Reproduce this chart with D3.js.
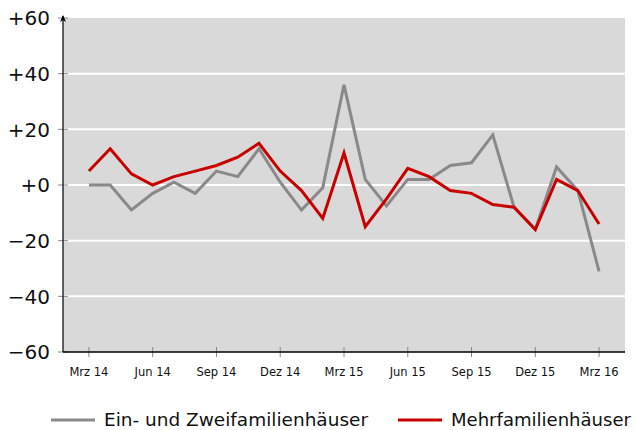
<!DOCTYPE html>
<html>
<head>
<meta charset="utf-8">
<script src="https://cdn.jsdelivr.net/npm/d3@7"></script>
<style>
  body { margin: 0; background: #fff; }
  text { font-family: "DejaVu Sans", sans-serif; fill: #111; }
</style>
</head>
<body>
<div id="chart"></div>
<script>
// months from Mrz 14 to Mrz 16
const months = ["Mrz 14","Apr 14","Mai 14","Jun 14","Jul 14","Aug 14","Sep 14","Okt 14","Nov 14","Dez 14","Jan 15","Feb 15",
  "Mrz 15","Apr 15","Mai 15","Jun 15","Jul 15","Aug 15","Sep 15","Okt 15","Nov 15","Dez 15","Jan 16","Feb 16","Mrz 16"];
const einZwei = [0, 0, -9, -3, 1, -3, 5, 3, 13, 1, -9, -1, 36, 2, -7.5, 2, 2, 7, 8, 18, -8, -16, 6.5, -2, -31];
const mehr = [5, 13, 4, 0, 3, 5, 7, 10, 15, 5, -2, -12, 11.5, -15, -5, 6, 3, -2, -3, -7, -8, -16, 2, -2, -14];
const yTicks = [-60, -40, -20, 0, 20, 40, 60];
const xTickIdx = [0, 3, 6, 9, 12, 15, 18, 21, 24];
const seriesNames = ["Ein- und Zweifamilienhäuser", "Mehrfamilienhäuser"];
const colors = ["#898989", "#c80000"];

const W = 636, H = 430;
const margin = {top: 18, right: 11, bottom: 78, left: 63};
const width = W - margin.left - margin.right;
const height = H - margin.top - margin.bottom;

const svg = d3.select("#chart").append("svg")
    .attr("width", W).attr("height", H);
const g = svg.append("g").attr("transform", `translate(${margin.left},${margin.top})`);

const x = d3.scaleLinear().domain([-1.22, 25.22]).range([0, width]);
const y = d3.scaleLinear().domain([-60, 60]).range([height, 0]);

// background
g.append("rect").attr("width", width).attr("height", height).attr("fill", "#d9d9d9");

// gridlines
g.selectAll(".grid").data(yTicks.filter(d => d > -60 && d < 60)).enter()
  .append("line")
  .attr("x1", 0).attr("x2", width)
  .attr("y1", d => y(d)).attr("y2", d => y(d))
  .attr("stroke", "#fff").attr("stroke-width", 2);

// y ticks + labels
const fmt = d => (d < 0 ? "\u2212" : "+") + Math.abs(d);
g.selectAll(".ytick").data(yTicks).enter().append("line")
  .attr("x1", -5).attr("x2", 5)
  .attr("y1", d => y(d)).attr("y2", d => y(d))
  .attr("stroke", "#888").attr("stroke-width", 1);
g.selectAll(".ylab").data(yTicks).enter().append("text")
  .attr("x", -13).attr("y", d => y(d))
  .attr("dy", "0.36em").attr("text-anchor", "end")
  .style("font-size", "20px")
  .text(fmt);

// x ticks + labels
g.selectAll(".xtick").data(xTickIdx).enter().append("line")
  .attr("x1", d => x(d)).attr("x2", d => x(d))
  .attr("y1", height - 5).attr("y2", height + 5)
  .attr("stroke", "#888").attr("stroke-width", 1);
g.selectAll(".xlab").data(xTickIdx).enter().append("text")
  .attr("x", d => x(d)).attr("y", height + 24)
  .attr("text-anchor", "middle")
  .style("font-size", "11.5px")
  .text(d => months[d]);

// axes lines
g.append("line").attr("x1", 0).attr("x2", width).attr("y1", height).attr("y2", height)
  .attr("stroke", "#000").attr("stroke-width", 1.5);
g.append("line").attr("x1", 0).attr("x2", 0).attr("y1", height).attr("y2", -2)
  .attr("stroke", "#000").attr("stroke-width", 1.2);
g.append("path").attr("d", "M0,-3 L-3,4 L0,2 L3,4 Z").attr("fill", "#000");

// lines
const line = d3.line().x((d, i) => x(i)).y(d => y(d));
[einZwei, mehr].forEach((s, k) => {
  g.append("path").datum(s)
    .attr("d", line)
    .attr("fill", "none")
    .attr("stroke", colors[k])
    .attr("stroke-width", 3)
    .attr("stroke-linejoin", "miter");
});

// legend
const legendX = [51, 398];
const legendW = [264, 180];
const leg = svg.append("g");
seriesNames.forEach((n, k) => {
  leg.append("line")
    .attr("x1", legendX[k]).attr("x2", legendX[k] + 44)
    .attr("y1", 420).attr("y2", 420)
    .attr("stroke", colors[k]).attr("stroke-width", 3);
  leg.append("text")
    .attr("x", legendX[k] + 53).attr("y", 425.5)
    .attr("textLength", legendW[k])
    .attr("lengthAdjust", "spacingAndGlyphs")
    .style("font-size", "18.5px")
    .text(n);
});
</script>
</body>
</html>
